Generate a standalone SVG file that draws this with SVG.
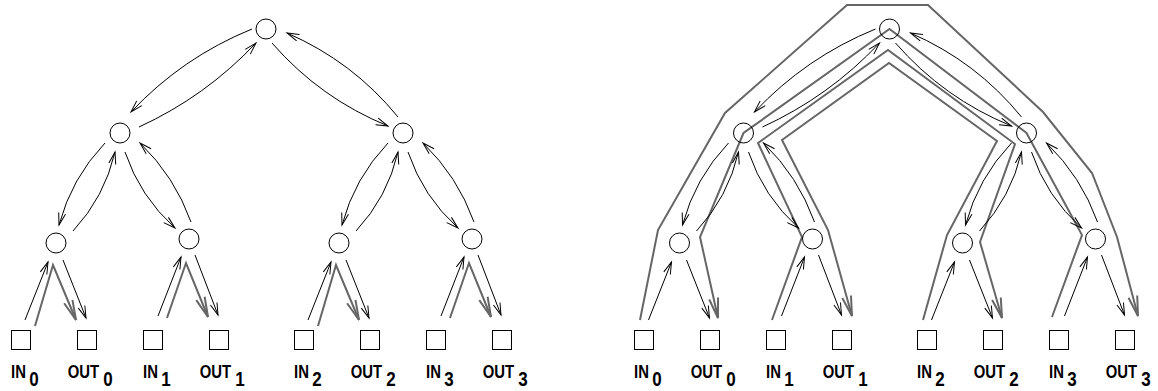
<svg xmlns="http://www.w3.org/2000/svg" width="1158" height="391" viewBox="0 0 1158 391">
<style>
.nd{fill:none;stroke:#000;stroke-width:1}
.a{fill:none;stroke:#000;stroke-width:1;marker-end:url(#ah)}
.g{fill:none;stroke:#666;stroke-width:2;stroke-linejoin:miter;marker-end:url(#gh)}
.t{font-family:"Liberation Sans",Arial,sans-serif;font-weight:bold;font-size:17.5px;fill:#000}
.s{font-size:20px}
</style>
<defs>
<marker id="ah" markerUnits="userSpaceOnUse" viewBox="-16 -8 18 16" markerWidth="18" markerHeight="16" refX="0" refY="0" orient="auto" overflow="visible"><path d="M-12,-3.5L0,0L-12,3.5" fill="none" stroke="#000" stroke-width="1"/></marker>
<marker id="gh" markerUnits="userSpaceOnUse" viewBox="-24 -8 26 16" markerWidth="26" markerHeight="16" refX="0" refY="0" orient="auto" overflow="visible"><path d="M-20,-4.5L0,0L-20,4.5" fill="none" stroke="#666" stroke-width="2"/></marker>
</defs>
<rect width="1158" height="391" fill="#fff"/>
<g id="connectors">
<g id="gray-left">
<path class="g" d="M35,326L53,265L76,320"/>
<path class="g" d="M167,318L186,263L208,317"/>
<path class="g" d="M318,326L336,265L359,320"/>
<path class="g" d="M450,318L469,263L491,317"/>
</g>
<g id="gray-right">
<path class="g" d="M640,320L658,230L725,113L847,5L928,5L1043,112L1092,173L1117,237L1138,316"/>
<path class="g" d="M1052,317L1082,235L1026.5,133L889.5,29L743.5,133L700,237L718,318"/>
<path class="g" d="M772,320L802,237L758,143L888,50L1015,144L980,242L1002,318"/>
<path class="g" d="M923,320L947,235L997,141L889,63L782,140L828,230L852,316"/>
</g>
<g id="black-left">
<path class="a" d="M252,29Q182.4,57.3 131,112"/>
<path class="a" d="M139,127Q205.7,96.4 256,43"/>
<path class="a" d="M272,43Q320.1,98.3 388,126"/>
<path class="a" d="M398,117Q352.8,61.5 287,33"/>
<path class="a" d="M105,143Q71.5,178.1 59,225"/>
<path class="a" d="M73,231Q104.6,197.1 115,152"/>
<path class="a" d="M125,152Q140,196.6 175,228"/>
<path class="a" d="M191,222Q174.7,176.5 140,143"/>
<path class="a" d="M388,143Q354.5,178.1 342,225"/>
<path class="a" d="M356,231Q387.6,197.1 398,152"/>
<path class="a" d="M408,152Q423,196.6 458,228"/>
<path class="a" d="M474,222Q457.7,176.5 423,143"/>
<path class="a" d="M25,320L48,262"/>
<path class="a" d="M63,260L86,318"/>
<path class="a" d="M158,316L181,257"/>
<path class="a" d="M195,255L218,315"/>
<path class="a" d="M308,320L331,262"/>
<path class="a" d="M346,260L369,318"/>
<path class="a" d="M441,316L464,257"/>
<path class="a" d="M478,255L501,315"/>
</g>
<g id="black-right">
<path class="a" d="M875.5,29Q805.9,57.3 754.5,112"/>
<path class="a" d="M762.5,127Q829.2,96.4 879.5,43"/>
<path class="a" d="M895.5,43Q943.6,98.3 1011.5,126"/>
<path class="a" d="M1021.5,117Q976.3,61.5 910.5,33"/>
<path class="a" d="M728.5,143Q695,178.1 682.5,225"/>
<path class="a" d="M696.5,231Q728.1,197.1 738.5,152"/>
<path class="a" d="M748.5,152Q763.5,196.6 798.5,228"/>
<path class="a" d="M814.5,222Q798.2,176.5 763.5,143"/>
<path class="a" d="M1011.5,143Q978,178.1 965.5,225"/>
<path class="a" d="M979.5,231Q1011.1,197.1 1021.5,152"/>
<path class="a" d="M1031.5,152Q1046.5,196.6 1081.5,228"/>
<path class="a" d="M1097.5,222Q1081.2,176.5 1046.5,143"/>
<path class="a" d="M648.5,320L671.5,262"/>
<path class="a" d="M686.5,260L709.5,318"/>
<path class="a" d="M781.5,316L804.5,257"/>
<path class="a" d="M818.5,255L841.5,315"/>
<path class="a" d="M931.5,320L954.5,262"/>
<path class="a" d="M969.5,260L992.5,318"/>
<path class="a" d="M1064.5,316L1087.5,257"/>
<path class="a" d="M1101.5,255L1124.5,315"/>
</g>
</g>
<g id="L-root"><circle class="nd" cx="266" cy="29" r="10"/></g>
<g id="L-n1"><circle class="nd" cx="120" cy="133" r="10"/></g>
<g id="L-n2"><circle class="nd" cx="403" cy="133" r="10"/></g>
<g id="L-n3"><circle class="nd" cx="56" cy="243" r="10"/></g>
<g id="L-n4"><circle class="nd" cx="189" cy="239" r="10"/></g>
<g id="L-n5"><circle class="nd" cx="339" cy="243" r="10"/></g>
<g id="L-n6"><circle class="nd" cx="472" cy="239" r="10"/></g>
<g id="L-in0"><rect class="nd" x="11.5" y="330.5" width="19" height="19"/><text class="t" transform="translate(11,377.5) scale(0.85,1)">IN<tspan class="s" dx="4" dy="8">0</tspan></text></g>
<g id="L-out0"><rect class="nd" x="77.5" y="330.5" width="19" height="19"/><text class="t" transform="translate(67.7,377.5) scale(0.85,1)">OUT<tspan class="s" dx="4.9" dy="8">0</tspan></text></g>
<g id="L-in1"><rect class="nd" x="143.5" y="330.5" width="19" height="19"/><text class="t" transform="translate(143,377.5) scale(0.85,1)">IN<tspan class="s" dx="4" dy="8">1</tspan></text></g>
<g id="L-out1"><rect class="nd" x="209.5" y="330.5" width="19" height="19"/><text class="t" transform="translate(199.7,377.5) scale(0.85,1)">OUT<tspan class="s" dx="4.9" dy="8">1</tspan></text></g>
<g id="L-in2"><rect class="nd" x="294.5" y="330.5" width="19" height="19"/><text class="t" transform="translate(294,377.5) scale(0.85,1)">IN<tspan class="s" dx="4" dy="8">2</tspan></text></g>
<g id="L-out2"><rect class="nd" x="360.5" y="330.5" width="19" height="19"/><text class="t" transform="translate(350.7,377.5) scale(0.85,1)">OUT<tspan class="s" dx="4.9" dy="8">2</tspan></text></g>
<g id="L-in3"><rect class="nd" x="426.5" y="330.5" width="19" height="19"/><text class="t" transform="translate(426,377.5) scale(0.85,1)">IN<tspan class="s" dx="4" dy="8">3</tspan></text></g>
<g id="L-out3"><rect class="nd" x="492.5" y="330.5" width="19" height="19"/><text class="t" transform="translate(482.7,377.5) scale(0.85,1)">OUT<tspan class="s" dx="4.9" dy="8">3</tspan></text></g>
<g id="R-root"><circle class="nd" cx="889.5" cy="29" r="10"/></g>
<g id="R-n1"><circle class="nd" cx="743.5" cy="133" r="10"/></g>
<g id="R-n2"><circle class="nd" cx="1026.5" cy="133" r="10"/></g>
<g id="R-n3"><circle class="nd" cx="679.5" cy="243" r="10"/></g>
<g id="R-n4"><circle class="nd" cx="812.5" cy="239" r="10"/></g>
<g id="R-n5"><circle class="nd" cx="962.5" cy="243" r="10"/></g>
<g id="R-n6"><circle class="nd" cx="1095.5" cy="239" r="10"/></g>
<g id="R-in0"><rect class="nd" x="634.5" y="330.5" width="19" height="19"/><text class="t" transform="translate(634,377.5) scale(0.85,1)">IN<tspan class="s" dx="4" dy="8">0</tspan></text></g>
<g id="R-out0"><rect class="nd" x="700.5" y="330.5" width="19" height="19"/><text class="t" transform="translate(690.7,377.5) scale(0.85,1)">OUT<tspan class="s" dx="4.9" dy="8">0</tspan></text></g>
<g id="R-in1"><rect class="nd" x="766.5" y="330.5" width="19" height="19"/><text class="t" transform="translate(766,377.5) scale(0.85,1)">IN<tspan class="s" dx="4" dy="8">1</tspan></text></g>
<g id="R-out1"><rect class="nd" x="832.5" y="330.5" width="19" height="19"/><text class="t" transform="translate(822.7,377.5) scale(0.85,1)">OUT<tspan class="s" dx="4.9" dy="8">1</tspan></text></g>
<g id="R-in2"><rect class="nd" x="917.5" y="330.5" width="19" height="19"/><text class="t" transform="translate(917,377.5) scale(0.85,1)">IN<tspan class="s" dx="4" dy="8">2</tspan></text></g>
<g id="R-out2"><rect class="nd" x="983.5" y="330.5" width="19" height="19"/><text class="t" transform="translate(973.7,377.5) scale(0.85,1)">OUT<tspan class="s" dx="4.9" dy="8">2</tspan></text></g>
<g id="R-in3"><rect class="nd" x="1049.5" y="330.5" width="19" height="19"/><text class="t" transform="translate(1049,377.5) scale(0.85,1)">IN<tspan class="s" dx="4" dy="8">3</tspan></text></g>
<g id="R-out3"><rect class="nd" x="1115.5" y="330.5" width="19" height="19"/><text class="t" transform="translate(1105.7,377.5) scale(0.85,1)">OUT<tspan class="s" dx="4.9" dy="8">3</tspan></text></g>
</svg>
